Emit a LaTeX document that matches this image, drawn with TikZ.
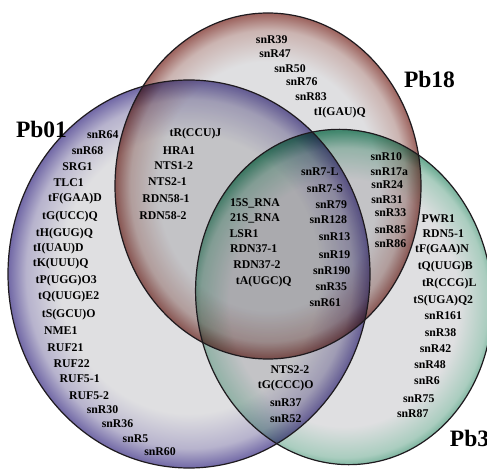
\documentclass[tikz,border=0pt]{standalone}
\usepackage{fontspec}
\setmainfont{Liberation Serif}
\definecolor{vcore}{HTML}{DFDFE1}
\definecolor{vedge}{HTML}{1E1A1E}
\definecolor{edgeA}{HTML}{7168A6}
\definecolor{midA}{HTML}{B7B3CD}
\definecolor{edgeB}{HTML}{9C625D}
\definecolor{midB}{HTML}{CBB4B1}
\definecolor{edgeC}{HTML}{4B9A7C}
\definecolor{midC}{HTML}{AACDBF}
\pgfdeclareradialshading{shadeA}{\pgfpoint{0bp}{0bp}}{color(0bp)=(vcore); color(18bp)=(vcore); color(22.5bp)=(midA); color(25bp)=(edgeA); color(50bp)=(edgeA)}
\pgfdeclareradialshading{shadeB}{\pgfpoint{0bp}{0bp}}{color(0bp)=(vcore); color(18bp)=(vcore); color(22.5bp)=(midB); color(25bp)=(edgeB); color(50bp)=(edgeB)}
\pgfdeclareradialshading{shadeC}{\pgfpoint{0bp}{0bp}}{color(0bp)=(vcore); color(18bp)=(vcore); color(22.5bp)=(midC); color(25bp)=(edgeC); color(50bp)=(edgeC)}
\tikzset{
  lbl/.style={font=\bfseries\fontsize{11.8bp}{13bp}\selectfont, inner sep=0pt},
  setlbl/.style={font=\bfseries\fontsize{23.5bp}{26bp}\selectfont, inner sep=0pt},
  vline/.style={draw=vedge, line width=1.2bp},
}
\begin{document}
\begin{tikzpicture}[x=1bp, y=-1bp]
\useasboundingbox (0,0) rectangle (487,470);
% sets
\path[shading=shadeA, blend mode=multiply] (189,274) ellipse [x radius=181, y radius=194];
\path[shading=shadeB, blend mode=multiply] (268,186) ellipse [x radius=153, y radius=173];
\path[shading=shadeC, blend mode=multiply, rotate around={8:(344,297)}] (344,297) ellipse [x radius=148, y radius=168];
\draw[vline] (189,274) ellipse [x radius=181, y radius=194];
\draw[vline] (268,186) ellipse [x radius=153, y radius=173];
\draw[vline, rotate around={8:(344,297)}] (344,297) ellipse [x radius=148, y radius=168];
\node[setlbl] (lPb01) at (41.5,129) {Pb01};
\node[setlbl] (lPb18) at (429.5,79) {Pb18};
\node[setlbl] (lPb3) at (469.5,438) {Pb3};
% Pb01 only
\node[lbl] (a0) at (102.8,135) {snR64};
\node[lbl] (a1) at (87.5,151) {snR68};
\node[lbl] (a2) at (77.5,166.7) {SRG1};
\node[lbl] (a3) at (68.7,182.3) {TLC1};
\node[lbl] (a4) at (75,199) {tF(GAA)D};
\node[lbl] (a5) at (70,216.7) {tG(UCC)Q};
\node[lbl] (a6) at (64.5,233.3) {tH(GUG)Q};
\node[lbl] (a7) at (58.3,249) {tI(UAU)D};
\node[lbl] (a8) at (60.7,264) {tK(UUU)Q};
\node[lbl] (a9) at (66.2,280.7) {tP(UGG)O3};
\node[lbl] (a10) at (68.7,296.7) {tQ(UUG)E2};
\node[lbl] (a11) at (68.7,315) {tS(GCU)O};
\node[lbl] (a12) at (60.8,331) {NME1};
\node[lbl] (a13) at (65.5,347.3) {RUF21};
\node[lbl] (a14) at (71.7,363.3) {RUF22};
\node[lbl] (a15) at (79.7,379) {RUF5-1};
\node[lbl] (a16) at (89,395.7) {RUF5-2};
\node[lbl] (a17) at (102.5,409.3) {snR30};
\node[lbl] (a18) at (117.5,424) {snR36};
\node[lbl] (a19) at (135.5,438.3) {snR5};
\node[lbl] (a20) at (160,451.7) {snR60};
% Pb18 only
\node[lbl] (b0) at (271.7,40) {snR39};
\node[lbl] (b1) at (275,54) {snR47};
\node[lbl] (b2) at (290,68.3) {snR50};
\node[lbl] (b3) at (301.8,81.7) {snR76};
\node[lbl] (b4) at (311,96.7) {snR83};
\node[lbl] (b5) at (339.8,112.7) {tI(GAU)Q};
% Pb3 only
\node[lbl] (c0) at (438.3,218.3) {PWR1};
\node[lbl] (c1) at (443.3,234) {RDN5-1};
\node[lbl] (c2) at (442,250) {tF(GAA)N};
\node[lbl] (c3) at (445.3,266.7) {tQ(UUG)B};
\node[lbl] (c4) at (449.2,283.3) {tR(CCG)L};
\node[lbl] (c5) at (443.3,300.7) {tS(UGA)Q2};
\node[lbl] (c6) at (443.3,316) {snR161};
\node[lbl] (c7) at (440.5,332.7) {snR38};
\node[lbl] (c8) at (435.5,348.3) {snR42};
\node[lbl] (c9) at (430,365) {snR48};
\node[lbl] (c10) at (427,380.7) {snR6};
\node[lbl] (c11) at (418.8,398.7) {snR75};
\node[lbl] (c12) at (412.8,414) {snR87};
% Pb01 and Pb18
\node[lbl] (ab0) at (195.5,134) {tR(CCU)J};
\node[lbl] (ab1) at (179,151) {HRA1};
\node[lbl] (ab2) at (173.7,166) {NTS1-2};
\node[lbl] (ab3) at (167.5,181.7) {NTS2-1};
\node[lbl] (ab4) at (166,198.3) {RDN58-1};
\node[lbl] (ab5) at (163,216) {RDN58-2};
% Pb18 and Pb3
\node[lbl] (bc0) at (386.3,156.7) {snR10};
\node[lbl] (bc1) at (389.3,171.7) {snR17a};
\node[lbl] (bc2) at (387.2,185) {snR24};
\node[lbl] (bc3) at (387,199.3) {snR31};
\node[lbl] (bc4) at (390.5,212.7) {snR33};
\node[lbl] (bc5) at (390.5,229.3) {snR85};
\node[lbl] (bc6) at (390.5,243.3) {snR86};
% Pb01 and Pb3
\node[lbl] (ac0) at (290,370) {NTS2-2};
\node[lbl] (ac1) at (285.7,386) {tG(CCC)O};
\node[lbl] (ac2) at (285.8,402.7) {snR37};
\node[lbl] (ac3) at (285.8,418.3) {snR52};
% all three
\node[lbl] (abc0) at (255,203.3) {15S\_RNA};
\node[lbl] (abc1) at (255,218.3) {21S\_RNA};
\node[lbl] (abc2) at (244,233.3) {LSR1};
\node[lbl] (abc3) at (253.7,248.3) {RDN37-1};
\node[lbl] (abc4) at (257,265) {RDN37-2};
\node[lbl] (abc5) at (263.8,281.7) {tA(UGC)Q};
\node[lbl] (abc6) at (319.7,171.7) {snR7-L};
\node[lbl] (abc7) at (325,188.3) {snR7-S};
\node[lbl] (abc8) at (331.3,204.3) {snR79};
\node[lbl] (abc9) at (328.3,220) {snR128};
\node[lbl] (abc10) at (334.5,236.7) {snR13};
\node[lbl] (abc11) at (334.5,255) {snR19};
\node[lbl] (abc12) at (331.7,270.7) {snR190};
\node[lbl] (abc13) at (331.3,286.7) {snR35};
\node[lbl] (abc14) at (325.3,302.7) {snR61};
\end{tikzpicture}
\end{document}
